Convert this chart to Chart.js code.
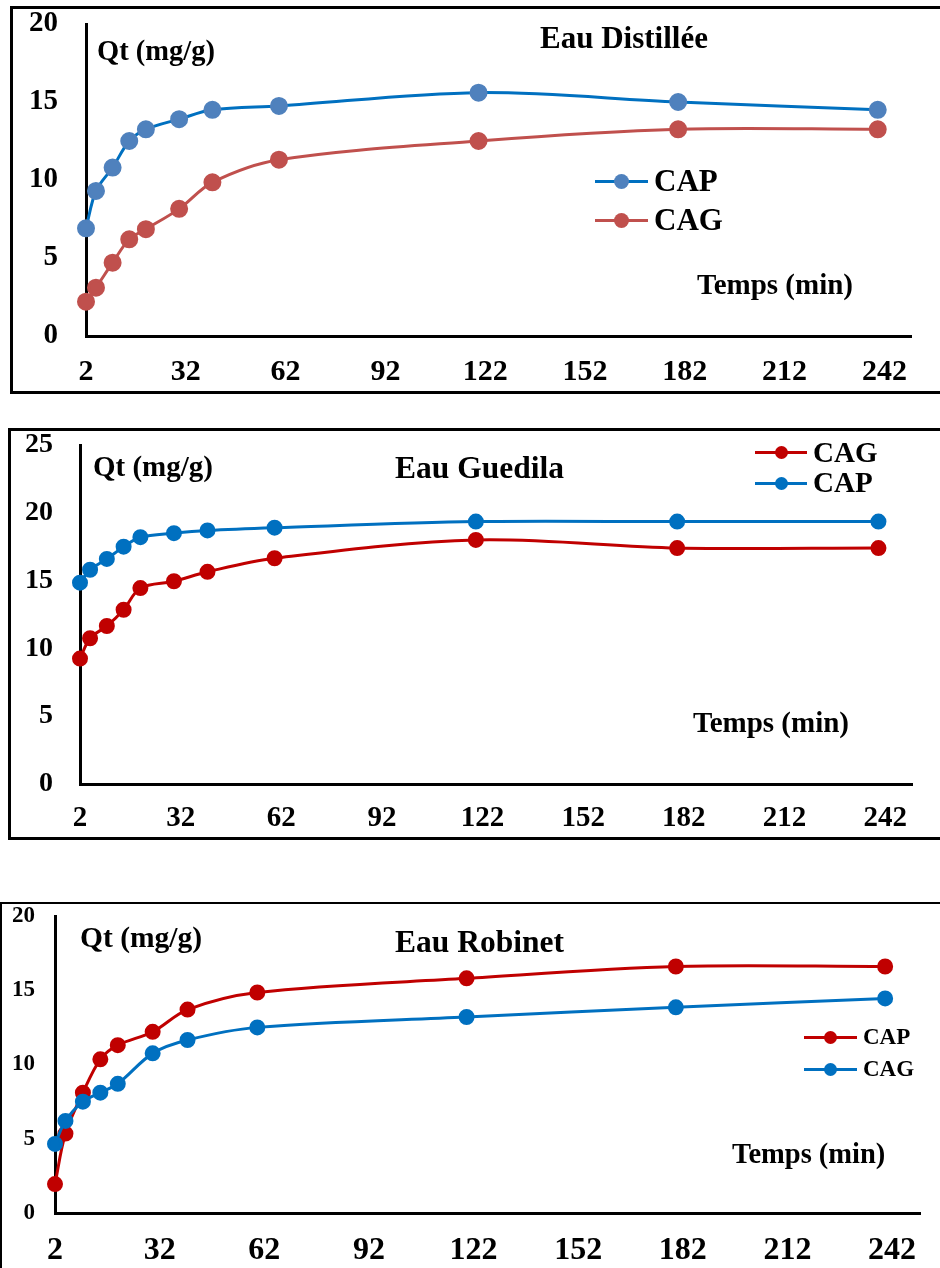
<!DOCTYPE html>
<html>
<head>
<meta charset="utf-8">
<script src="https://cdn.jsdelivr.net/npm/chart.js@4.4.1/dist/chart.umd.min.js"></script>
<style>
  html, body { margin:0; padding:0; background:#fff; width:940px; height:1268px; overflow:hidden; position:relative; }
  .frame { position:absolute; box-sizing:border-box; border-style:solid; border-color:#000; width:1000px; }
  canvas { position:absolute; left:0; }
  .txt { position:absolute; font-family:"Liberation Serif","Times New Roman",serif; font-weight:bold; color:#000; line-height:1; white-space:nowrap; }
  .leg { position:absolute; }
  .leg .ln { position:absolute; left:0; height:3px; }
  .leg .dot { position:absolute; border-radius:50%; }
</style>
</head>
<body>
<div class="frame" style="left:10px; top:6px; height:388px; border-width:3px;"></div>
<div class="frame" style="left:8px; top:428px; height:412px; border-width:3px;"></div>
<div class="frame" style="left:0px; top:902px; height:400px; border-width:2px;"></div>

<canvas id="c1"></canvas>
<canvas id="c2"></canvas>
<canvas id="c3"></canvas>

<script>
// ---------- data ----------
const xTicks = [2, 32, 62, 92, 122, 152, 182, 212, 242];
const times = [2, 5, 10, 15, 20, 30, 40, 60, 120, 180, 240];

const distCAP = [6.9, 9.3, 10.8, 12.5, 13.25, 13.9, 14.5, 14.75, 15.6, 15.0, 14.5];
const distCAG = [2.2, 3.1, 4.7, 6.2, 6.85, 8.15, 9.85, 11.3, 12.5, 13.25, 13.25];

const guedCAG = [9.25, 10.75, 11.65, 12.85, 14.45, 14.95, 15.65, 16.65, 18.0, 17.4, 17.4];
const guedCAP = [14.85, 15.8, 16.6, 17.5, 18.2, 18.5, 18.7, 18.9, 19.35, 19.35, 19.35];

const robCAP = [1.95, 5.35, 8.1, 10.35, 11.3, 12.2, 13.7, 14.85, 15.8, 16.6, 16.6];
const robCAG = [4.65, 6.2, 7.5, 8.1, 8.7, 10.75, 11.65, 12.5, 13.2, 13.85, 14.45];

const titles = ["Eau Distillée", "Eau Guedila", "Eau Robinet"];
const yLabel = "Qt (mg/g)";
const xLabel = "Temps (min)";

// ---------- helpers ----------
const FONT = '"Liberation Serif","Times New Roman",serif';
function pts(ys){ return times.map((t,i)=>({x:t, y:ys[i]})); }

function ds(label, ys, line, marker, r, order){
  return { label, data: pts(ys), borderColor: line, backgroundColor: marker,
    pointBackgroundColor: marker, pointBorderColor: marker, pointRadius: r, pointHoverRadius: r,
    borderWidth: 3, tension: 0.33, fill:false, order, clip: false };
}

function makeChart(id, cfg){
  const cv = document.getElementById(id);
  cv.width = 940; cv.height = cfg.h;
  cv.style.top = cfg.top + 'px';
  cv.style.width = '940px'; cv.style.height = cfg.h + 'px';
  const L = cfg.area[0], T = cfg.area[1], R = cfg.area[2], B = cfg.area[3];
  return new Chart(cv, {
    type: 'line',
    data: { datasets: cfg.datasets },
    options: {
      responsive: false, animation: false, devicePixelRatio: 1,
      layout: { padding: { left: 0, top: T - cfg.top, right: 940 - R, bottom: 0 } },
      plugins: { legend: { display:false }, tooltip: { enabled:false }, title: { display:false } },
      scales: {
        x: {
          type: 'linear', min: 2, max: 250,
          grid: { display:false, drawTicks:false },
          border: { display:true, color:'#000', width:3 },
          afterBuildTicks: s => { s.ticks = xTicks.map(v => ({ value: v })); },
          afterFit: s => { s.height = cfg.top + cfg.h - B; s.paddingLeft = 0; s.paddingRight = 0; },
          ticks: { autoSkip:false, maxRotation:0, padding: cfg.xPad, color:'#000',
                   font: { family: FONT, weight:'bold', size: cfg.xFont } }
        },
        y: {
          min: 0, max: cfg.yMax,
          grid: { display:false, drawTicks:false },
          border: { display:true, color:'#000', width:3 },
          afterFit: s => { s.width = L; s.paddingTop = 0; s.paddingBottom = 0; },
          ticks: { stepSize: 5, padding: cfg.yPad, color:'#000',
                   font: { family: FONT, weight:'bold', size: cfg.yFont } }
        }
      }
    }
  });
}

function addText(str, left, capTop, size){
  const d = document.createElement('div');
  d.className = 'txt';
  d.textContent = str;
  d.style.left = left + 'px';
  d.style.top = (capTop - 0.175 * size) + 'px';
  d.style.fontSize = size + 'px';
  document.body.appendChild(d);
}

function addLegend(chart, items){
  items.forEach(it => {
    const dset = chart.data.datasets[it.idx];
    const g = document.createElement('div');
    g.className = 'leg';
    g.style.left = it.lineX + 'px';
    g.style.top = (it.y) + 'px';
    const ln = document.createElement('div');
    ln.className = 'ln';
    ln.style.width = it.lineW + 'px';
    ln.style.top = '-1.5px';
    ln.style.background = dset.borderColor;
    const dot = document.createElement('div');
    dot.className = 'dot';
    dot.style.width = dot.style.height = (2 * it.r) + 'px';
    dot.style.left = (it.lineW / 2 - it.r) + 'px';
    dot.style.top = (-it.r) + 'px';
    dot.style.background = dset.pointBackgroundColor;
    g.appendChild(ln); g.appendChild(dot);
    document.body.appendChild(g);
    addText(dset.label, it.textX, it.capTop, it.size);
  });
}

// ---------- chart 1 ----------
const ch1 = makeChart('c1', {
  top: 6, h: 388, area: [86, 24, 911, 336], yMax: 20,
  xFont: 30, yFont: 29, xPad: 18, yPad: 28,
  datasets: [
    ds('CAP', distCAP, '#0070C0', '#4F81BD', 7.5, 0),
    ds('CAG', distCAG, '#C0504D', '#C0504D', 7.5, 1)
  ]
});
addText(titles[0], 540, 27, 31);
addText(yLabel, 97, 42, 28.5);
addText(xLabel, 697, 275, 29);
addLegend(ch1, [
  { idx:0, lineX:595, lineW:53, y:181, textX:654, capTop:170, size:31, r:7.5 },
  { idx:1, lineX:595, lineW:53, y:220, textX:654, capTop:209, size:31, r:7.5 }
]);

// ---------- chart 2 ----------
const ch2 = makeChart('c2', {
  top: 428, h: 412, area: [80, 445, 912, 784], yMax: 25,
  xFont: 29, yFont: 28, xPad: 17, yPad: 27,
  datasets: [
    ds('CAG', guedCAG, '#C00000', '#C00000', 6.5, 1),
    ds('CAP', guedCAP, '#0070C0', '#0070C0', 6.5, 0)
  ]
});
addText(titles[1], 395, 458, 31.5);
addText(yLabel, 93, 457, 29);
addText(xLabel, 693, 713, 29);
addLegend(ch2, [
  { idx:0, lineX:755, lineW:52, y:452, textX:813, capTop:443, size:29, r:6.5 },
  { idx:1, lineX:755, lineW:52, y:483, textX:813, capTop:473, size:29, r:6.5 }
]);

// ---------- chart 3 ----------
const ch3 = makeChart('c3', {
  top: 903, h: 365, area: [55, 916, 920, 1213], yMax: 20,
  xFont: 32, yFont: 23, xPad: 19, yPad: 20,
  datasets: [
    ds('CAP', robCAP, '#C00000', '#C00000', 6.5, 1),
    ds('CAG', robCAG, '#0070C0', '#0070C0', 6.5, 0)
  ]
});
addText(titles[2], 395, 932, 31.5);
addText(yLabel, 80, 928, 29.5);
addText(xLabel, 732, 1145, 28.5);
addLegend(ch3, [
  { idx:0, lineX:804, lineW:53, y:1037, textX:863, capTop:1029, size:23, r:6.5 },
  { idx:1, lineX:804, lineW:53, y:1069, textX:863, capTop:1061, size:23, r:6.5 }
]);
</script>
</body>
</html>
